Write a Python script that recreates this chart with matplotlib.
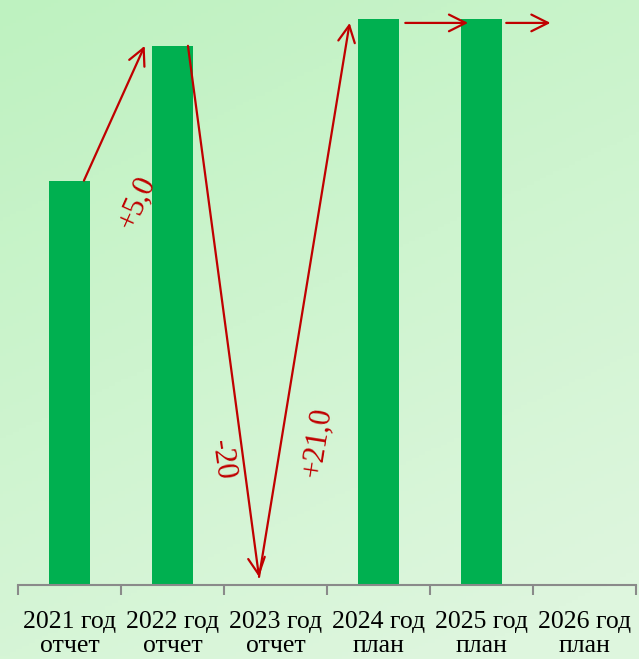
import numpy as np
import matplotlib.pyplot as plt

years = ['2021 год', '2022 год', '2023 год', '2024 год', '2025 год', '2026 год']
kinds = ['отчет', 'отчет', 'отчет', 'план', 'план', 'план']
values = [15.0, 20.0, 0.0, 21.0, 21.0, np.nan]

# change arrows: (x0, y0, x1, y1) in data coords
arrows = [(0.14, 15.0, 0.73, 20.0),
          (1.15, 20.0, 1.84, 0.3),
          (1.84, 0.3, 2.72, 20.85),
          (3.26, 20.85, 3.87, 20.85),
          (4.24, 20.85, 4.67, 20.85)]
deltas = ['+5,0', '-20', '+21,0']
delta_pos = [(0.655, 14.2, 66), (1.48, 4.65, -82), (2.41, 5.3, 81)]

red = '#c00000'
plt.rcParams['font.family'] = ['Liberation Serif', 'DejaVu Serif']

fig = plt.figure(figsize=(6.39, 6.59), dpi=100)

# background gradient
bg = fig.add_axes([0, 0, 1, 1])
gy, gx = np.mgrid[0:1:200j, 0:1:200j]
t = np.clip(0.75 * gy + 0.35 * gx, 0, 1)
c0 = np.array([190, 242, 192]) / 255
c1 = np.array([222, 246, 222]) / 255
img = c0 + (c1 - c0) * t[..., None]
bg.imshow(img, aspect='auto', extent=[0, 1, 1, 0])
bg.axis('off')

ax = fig.add_axes([18 / 639, 1 - 585 / 659, 618 / 639, 585 / 659])
ax.patch.set_alpha(0)
x = np.arange(len(years))
ax.bar(x, values, width=0.4, color='#00b050', zorder=2)
ax.set_xlim(-0.5, 5.5)
ax.set_ylim(0, 21.7)

for x0, y0, x1, y1 in arrows:
    ax.annotate('', xy=(x1, y1), xytext=(x0, y0),
                arrowprops=dict(arrowstyle='->', color=red, lw=1.6,
                                mutation_scale=30, shrinkA=0, shrinkB=0),
                zorder=3, annotation_clip=False)

for txt, (tx, ty, rot) in zip(deltas, delta_pos):
    ax.text(tx, ty, txt, color=red, fontsize=22, rotation=rot,
            ha='center', va='center', rotation_mode='anchor')

for s in ['top', 'right', 'left']:
    ax.spines[s].set_visible(False)
ax.spines['bottom'].set_color('#8a8a8a')
ax.spines['bottom'].set_linewidth(1.5)
ax.set_yticks([])
ax.set_xticks(x)
ax.set_xticklabels([])
ax.tick_params(axis='x', which='major', length=0)
ax.set_xticks(np.arange(-0.5, 6, 1), minor=True)
ax.tick_params(axis='x', which='minor', length=7, width=1.5, color='#8a8a8a')

tr = ax.get_xaxis_transform()
for i, (a, b) in enumerate(zip(years, kinds)):
    ax.text(i, -43 / 585, a, transform=tr, ha='center', va='baseline',
            fontsize=18.5)
    ax.text(i, -67 / 585, b, transform=tr, ha='center', va='baseline',
            fontsize=18.5)

fig.savefig('out.png', dpi=100)
